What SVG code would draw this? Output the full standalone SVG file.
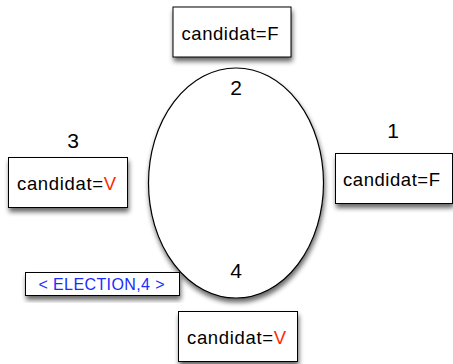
<svg xmlns="http://www.w3.org/2000/svg" width="453" height="364" viewBox="0 0 453 364">
<style>
.box{fill:#fff;stroke:#000;stroke-width:1}
.t{font-family:"Liberation Sans",Arial,sans-serif;font-size:18.5px;fill:#000}
.n{font-family:"Liberation Sans",Arial,sans-serif;font-size:21px;fill:#000;text-anchor:middle}
.r{fill:#ff2a00}
.e{font-family:"Liberation Sans",Arial,sans-serif;font-size:16px;fill:#1a2cff}
</style>
<defs>
<filter id="sh" x="-20%" y="-20%" width="140%" height="150%">
<feGaussianBlur in="SourceAlpha" stdDeviation="2.5"/>
<feOffset dx="1" dy="4" result="b"/>
<feComponentTransfer><feFuncA type="linear" slope="0.6"/></feComponentTransfer>
<feMerge><feMergeNode/><feMergeNode in="SourceGraphic"/></feMerge>
</filter>
</defs>
<g id="ring">
<ellipse cx="236" cy="183" rx="87.5" ry="115" fill="#fff" stroke="#000" stroke-width="1.2" filter="url(#sh)"/>
</g>
<g id="connectors"></g>
<g id="node2">
<rect class="box" x="173" y="7" width="118" height="50" filter="url(#sh)"/>
<text class="t" x="181.5" y="40" textLength="97">candidat=F</text>
<text class="n" x="236" y="95">2</text>
</g>
<g id="node3">
<rect class="box" x="8.5" y="157.5" width="119" height="50" filter="url(#sh)"/>
<text class="t" x="17" y="190" textLength="99">candidat=<tspan class="r">V</tspan></text>
<text class="n" x="73" y="148">3</text>
</g>
<g id="node1">
<rect class="box" x="335.5" y="153.5" width="117" height="50" filter="url(#sh)"/>
<text class="t" x="343" y="186" textLength="97">candidat=F</text>
<text class="n" x="393" y="138">1</text>
</g>
<g id="node4">
<rect class="box" x="178.5" y="311.5" width="119" height="50" filter="url(#sh)"/>
<text class="t" x="187" y="344" textLength="99">candidat=<tspan class="r">V</tspan></text>
<text class="n" x="236" y="278">4</text>
</g>
<g id="message">
<rect class="box" x="25.5" y="272.5" width="154" height="23" filter="url(#sh)"/>
<text class="e" x="38.5" y="289.5" textLength="126">&lt; ELECTION,4 &gt;</text>
</g>
</svg>
